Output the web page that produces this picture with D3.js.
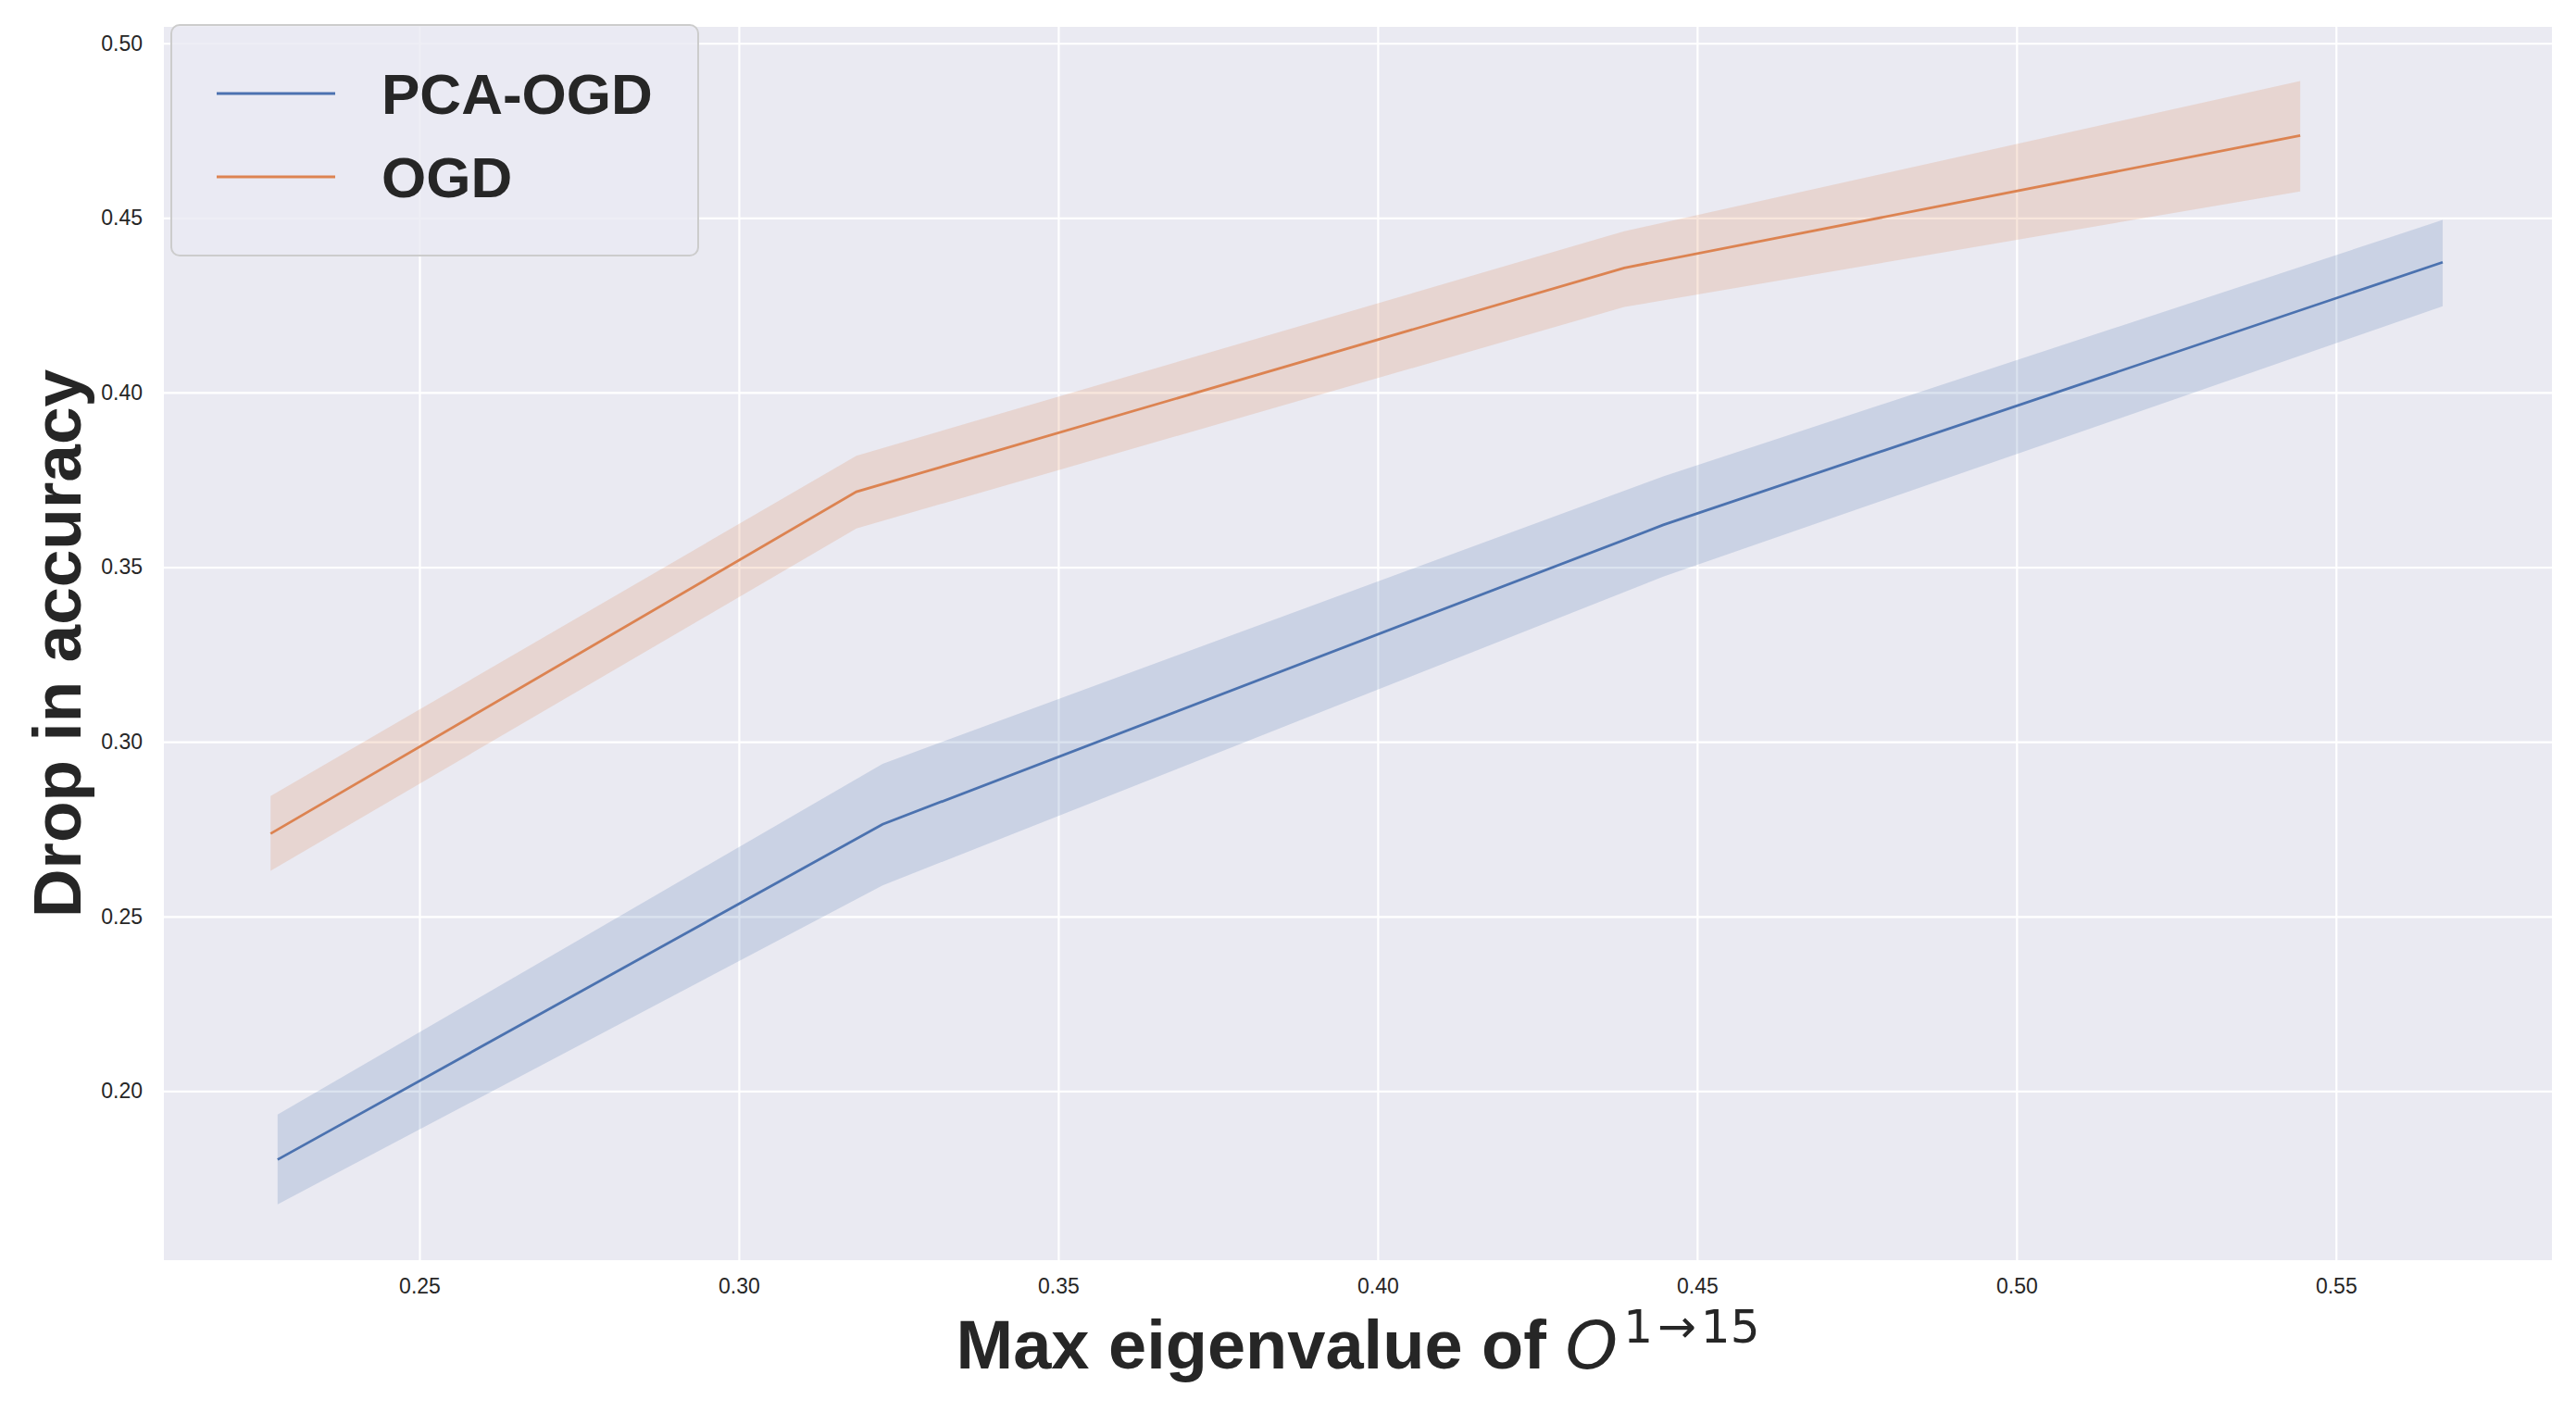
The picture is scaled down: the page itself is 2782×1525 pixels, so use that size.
<!DOCTYPE html>
<html>
<head>
<meta charset="utf-8">
<script src="https://cdn.jsdelivr.net/npm/d3@7"></script>
<style>
  body { margin: 0; background: #fff; }
  svg text { font-family: "Liberation Sans", Arial, sans-serif; fill: #262626; }
</style>
</head>
<body>
<svg id="chart" width="2782" height="1525"></svg>
<script>
// values
const pcaX  = [0.2278, 0.3225, 0.4447, 0.5667];
const pcaY  = [0.1804, 0.2764, 0.3621, 0.4373];
const pcaLo = [0.1676, 0.2589, 0.3473, 0.4247];
const pcaHi = [0.1933, 0.2937, 0.3760, 0.4494];

const ogdX  = [0.2267, 0.3184, 0.4386, 0.5444];
const ogdY  = [0.2737, 0.3716, 0.4357, 0.4736];
const ogdLo = [0.2631, 0.3611, 0.4245, 0.4576];
const ogdHi = [0.2845, 0.3819, 0.4462, 0.4892];

const seriesNames = ["PCA-OGD", "OGD"];
const seriesColors = ["#4C72B0", "#DD8452"];
const xTicks = [0.25, 0.30, 0.35, 0.40, 0.45, 0.50, 0.55];
const yTicks = [0.20, 0.25, 0.30, 0.35, 0.40, 0.45, 0.50];

const width = 2782, height = 1525;
const margin = {left: 177, top: 29, right: 26, bottom: 164};
const svg = d3.select("#chart");

const x = d3.scaleLinear().domain([0.21, 0.5838]).range([margin.left, width - margin.right]);
const y = d3.scaleLinear().domain([0.1516, 0.5047]).range([height - margin.bottom, margin.top]);

// axes background
svg.append("rect")
    .attr("x", margin.left).attr("y", margin.top)
    .attr("width", width - margin.left - margin.right)
    .attr("height", height - margin.top - margin.bottom)
    .attr("fill", "#EAEAF2");

// grid
const xAxis = d3.axisBottom(x).tickValues(xTicks).tickFormat(d3.format(".2f"))
    .tickSize(-(height - margin.top - margin.bottom)).tickPadding(20);
const yAxis = d3.axisLeft(y).tickValues(yTicks).tickFormat(d3.format(".2f"))
    .tickSize(-(width - margin.left - margin.right)).tickPadding(23);

const gx = svg.append("g")
    .attr("transform", "translate(0," + (height - margin.bottom) + ")")
    .call(xAxis);
const gy = svg.append("g")
    .attr("transform", "translate(" + margin.left + ",0)")
    .call(yAxis);

[gx, gy].forEach(g => {
    g.select(".domain").remove();
    g.selectAll(".tick line").attr("stroke", "#ffffff").attr("stroke-width", 2.2);
    g.selectAll(".tick text").attr("font-size", 23).attr("fill", "#262626");
});

// series: line + confidence band
const series = [
    {name: seriesNames[0], color: seriesColors[0], xs: pcaX, ys: pcaY, lo: pcaLo, hi: pcaHi},
    {name: seriesNames[1], color: seriesColors[1], xs: ogdX, ys: ogdY, lo: ogdLo, hi: ogdHi}
];

const line = d3.line().x(d => x(d.x)).y(d => y(d.y));
const area = d3.area().x(d => x(d.x)).y0(d => y(d.lo)).y1(d => y(d.hi));

series.forEach(s => {
    const pts = s.xs.map((v, i) => ({x: v, y: s.ys[i], lo: s.lo[i], hi: s.hi[i]}));
    svg.append("path")
        .datum(pts)
        .attr("d", line)
        .attr("fill", "none")
        .attr("stroke", s.color)
        .attr("stroke-width", 2.8);
    svg.append("path")
        .datum(pts)
        .attr("d", area)
        .attr("fill", s.color)
        .attr("fill-opacity", 0.2);
});

// legend
const legend = svg.append("g");
legend.append("rect")
    .attr("x", 185).attr("y", 27)
    .attr("width", 569).attr("height", 249)
    .attr("rx", 9)
    .attr("fill", "#EAEAF2").attr("fill-opacity", 0.8)
    .attr("stroke", "#cccccc").attr("stroke-width", 2);

series.forEach((s, i) => {
    const ly = 101 + i * 90;
    legend.append("line")
        .attr("x1", 234).attr("x2", 362)
        .attr("y1", ly).attr("y2", ly)
        .attr("stroke", s.color).attr("stroke-width", 2.8);
    legend.append("text")
        .attr("x", 412).attr("y", ly + 22)
        .attr("font-size", 62).attr("font-weight", "bold")
        .text(s.name);
});

// axis labels
const xl = svg.append("text")
    .attr("x", (margin.left + width - margin.right) / 2)
    .attr("y", 1478)
    .attr("text-anchor", "middle")
    .attr("font-size", 74).attr("font-weight", "bold");
xl.append("tspan").text("Max eigenvalue of ");
xl.append("tspan")
    .attr("font-family", "DejaVu Sans").attr("font-style", "italic")
    .attr("font-weight", "normal").attr("font-size", 72)
    .text("O");
xl.append("tspan")
    .attr("font-family", "DejaVu Sans").attr("font-weight", "normal")
    .attr("font-size", 50).attr("dy", -28).attr("dx", 6)
    .text("1\u200a\u2192\u200a15");

svg.append("text")
    .attr("transform", "translate(87," + ((margin.top + height - margin.bottom) / 2) + ") rotate(-90)")
    .attr("text-anchor", "middle")
    .attr("font-size", 73).attr("font-weight", "bold")
    .text("Drop in accuracy");
</script>
</body>
</html>
